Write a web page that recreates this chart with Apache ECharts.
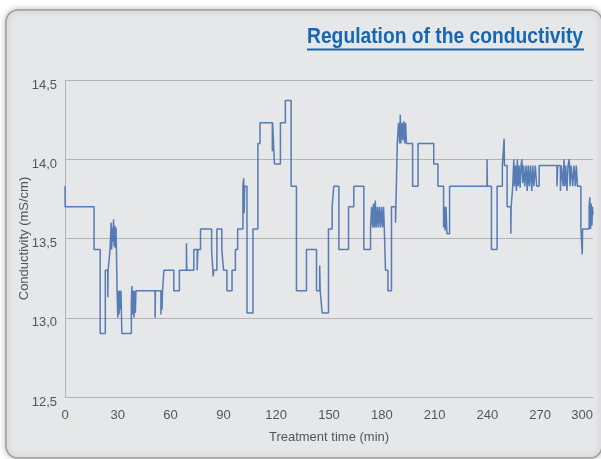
<!DOCTYPE html>
<html>
<head>
<meta charset="utf-8">
<script src="https://cdn.jsdelivr.net/npm/echarts@6/dist/echarts.min.js"></script>
<style>
  html, body { margin: 0; padding: 0; background: #ffffff; }
  #chart { width: 601px; height: 459px; }
</style>
</head>
<body>
<div id="chart"></div>
<script>
// Time (min) at which each conductivity level starts (step changes)
var times = [
  0, 0.1, 16.5, 20, 22.9, 24.3, 24.5, 25.6,
  26.2, 26.5, 26.9, 27.2, 27.6, 27.9, 28.3, 28.6,
  29.0, 29.6, 30.0, 30.3, 30.7, 31.0, 31.4, 31.8,
  32.3, 37.7, 38.0, 38.4, 38.8, 39.2, 39.6, 40.0, 40.3,
  51.2, 51.4, 54.5, 54.8, 55.1, 55.4, 56.2,
  61.8, 65.0, 69.0, 69.2, 73.2, 75.1, 75.5, 77.0,
  83.3, 84.2, 84.5, 86.3, 89.1, 90.1, 92.0, 94.9, 96.8, 98.1,
  101.1, 101.5, 101.8, 102.1, 103.4, 106.8, 109.6, 110.8,
  117.8, 118.0, 119.0, 122.4, 125.2, 128.5, 131.5, 137.2, 142.9,
  144.7, 145.0, 146.1, 149.7, 151.8, 152.7, 155.6, 161.1, 164.1, 169.8,
  173.6, 174.2, 174.8, 175.3, 175.8, 176.3, 176.8, 177.5, 178.0, 178.6,
  179.2, 179.8, 180.4, 181.0, 181.4,
  182.1, 183.5, 185.5, 187.8, 188.0, 188.8,
  189.5, 190.2, 190.5, 190.8, 191.5, 192.0, 192.5, 193.0, 193.5, 194.0,
  197.5, 200.6, 209.5, 211.9,
  215.1, 215.6, 216.0, 216.5, 217.0, 218.5,
  239.8, 240.0, 242.3, 245.5, 248.5, 249.5, 249.7, 251.2, 253.3, 253.5,
  254.4, 255.0, 255.4, 256.0, 256.5, 257.0, 257.5, 258.0, 258.6, 259.1,
  259.6, 260.1, 260.6, 261.2, 262.0, 262.6, 263.2, 263.8, 264.5, 265.2,
  265.8, 266.4, 267.2, 268.0, 269.4,
  279.5, 280.0, 281.5, 282.0, 283.0, 283.5, 284.0, 284.5, 285.2, 285.8,
  286.5, 287.0, 287.6, 288.5, 289.2, 290.0, 290.5, 291.2,
  293.1, 293.9, 294.1, 297.8, 298.2, 298.6, 299.0, 299.4, 299.7, 300
];
// Conductivity (mS/cm) level starting at each time above
var conductivity = [
  13.83, 13.70, 13.43, 12.90, 13.30, 13.13, 13.30, 13.43,
  13.60, 13.43, 13.57, 13.48, 13.62, 13.45, 13.58, 13.44,
  13.57, 13.17, 13.00, 13.17, 13.02, 13.17, 13.05, 13.17,
  12.90, 13.10, 13.20, 13.02, 13.17, 13.00, 13.17, 13.03, 13.17,
  13.00, 13.17, 13.02, 13.17, 13.05, 13.17, 13.30,
  13.17, 13.30, 13.47, 13.30, 13.43, 13.30, 13.43, 13.56,
  13.43, 13.26, 13.30, 13.56, 13.43, 13.30, 13.17, 13.30, 13.43, 13.56,
  13.83, 13.88, 13.66, 13.83, 13.03, 13.56, 14.10, 14.23,
  14.05, 14.23, 13.97, 14.23, 14.37, 13.83, 13.17, 13.43, 13.17,
  13.33, 13.17, 13.03, 13.56, 13.70, 13.83, 13.43, 13.70, 13.83, 13.43,
  13.57, 13.70, 13.57, 13.72, 13.57, 13.74, 13.57, 13.70, 13.57, 13.70,
  13.57, 13.70, 13.57, 13.70, 13.57,
  13.30, 13.17, 13.70, 13.60, 13.70, 14.10,
  14.23, 14.10, 14.28, 14.10, 14.23, 14.12, 14.24, 14.10, 14.23, 14.10,
  13.83, 14.10, 13.97, 13.83,
  13.57, 13.70, 13.55, 13.70, 13.53, 13.83,
  14.00, 13.83, 13.43, 13.83, 13.96, 14.13, 13.96, 13.70, 13.53, 13.70,
  13.83, 14.00, 13.83, 13.96, 13.80, 14.00, 13.83, 13.96, 13.82, 13.96,
  14.00, 13.85, 13.96, 13.83, 13.96, 13.80, 13.96, 13.83, 13.96, 13.80,
  13.96, 13.83, 13.96, 13.83, 13.96,
  13.83, 13.96, 13.80, 13.96, 13.83, 14.00, 13.83, 13.96, 13.80, 13.96,
  14.00, 13.83, 13.96, 13.83, 13.96, 13.83, 13.96, 13.83,
  13.56, 13.40, 13.56, 13.70, 13.76, 13.56, 13.72, 13.58, 13.70, 13.65
];
var xTicks = [0, 30, 60, 90, 120, 150, 180, 210, 240, 270, 300];
var yTicks = [12.5, 13.0, 13.5, 14.0, 14.5];

var titleText = 'Regulation of the conductivity';
var xName = 'Treatment time (min)';
var yName = 'Conductivity (mS/cm)';

var seriesData = times.map(function (t, i) { return [t, conductivity[i]]; });

var labelFont = "'Liberation Sans', Arial, sans-serif";
var titleFont = "bold 22px 'Liberation Sans', Arial, sans-serif";
var titleBlue = '#1567b4';

// fit the bold title into the condensed width of the original
var ctx = document.createElement('canvas').getContext('2d');
ctx.font = titleFont;
var titleWidth = ctx.measureText(titleText).width;
var titleScaleX = 276 / titleWidth;

var chart = echarts.init(document.getElementById('chart'), null, { renderer: 'canvas' });

chart.setOption({
  animation: false,
  backgroundColor: '#ffffff',
  grid: { left: 65, right: 8, top: 80, bottom: 62, containLabel: false },
  graphic: [
    {
      type: 'rect', z: -10, silent: true,
      shape: { x: 6, y: 10, width: 596, height: 448, r: 12 },
      style: {
        fill: '#e6e7e9', stroke: '#9c9c9c', lineWidth: 1.5,
        shadowBlur: 6, shadowColor: 'rgba(0,0,0,0.25)', shadowOffsetX: 0, shadowOffsetY: 0
      }
    },
    {
      type: 'text', z: 10, silent: true,
      x: 583, y: 36.5, scaleX: titleScaleX, scaleY: 1,
      style: {
        x: 0, y: 0,
        text: titleText, fill: titleBlue,
        font: titleFont,
        align: 'right', verticalAlign: 'middle'
      }
    },
    {
      type: 'line', z: 10, silent: true,
      shape: { x1: 307, y1: 49.5, x2: 584, y2: 49.5 },
      style: { stroke: titleBlue, lineWidth: 2 }
    }
  ],
  xAxis: {
    type: 'value', min: xTicks[0], max: xTicks[xTicks.length - 1], interval: 30,
    name: xName, nameLocation: 'middle', nameGap: 34, nameMoveOverlap: false,
    nameTextStyle: { color: '#555555', fontSize: 13, fontFamily: labelFont },
    axisLine: { show: true, lineStyle: { color: '#b3b3b3', width: 1 } },
    axisTick: { show: false },
    axisLabel: { color: '#555555', fontSize: 13, fontFamily: labelFont, margin: 12, alignMaxLabel: 'right' },
    splitLine: { show: false }
  },
  yAxis: {
    type: 'value', min: yTicks[0], max: yTicks[yTicks.length - 1], interval: 0.5,
    name: yName, nameLocation: 'middle', nameGap: 34, nameRotate: 90, nameMoveOverlap: false,
    nameTextStyle: { color: '#555555', fontSize: 13, fontFamily: labelFont },
    axisLine: { show: true, lineStyle: { color: '#b3b3b3', width: 1 } },
    axisTick: { show: false },
    axisLabel: {
      color: '#555555', fontSize: 13, fontFamily: labelFont, margin: 8,
      verticalAlign: 'top', lineHeight: 10,
      formatter: function (v) { return v.toFixed(1).replace('.', ','); }
    },
    splitLine: { show: true, lineStyle: { color: '#b3b3b3', width: 1 } }
  },
  series: [{
    type: 'line', step: 'end', data: seriesData, symbol: 'none',
    lineStyle: { color: '#3d67aa', width: 1.5, opacity: 0.85 },
    z: 5
  }]
});
</script>
</body>
</html>
